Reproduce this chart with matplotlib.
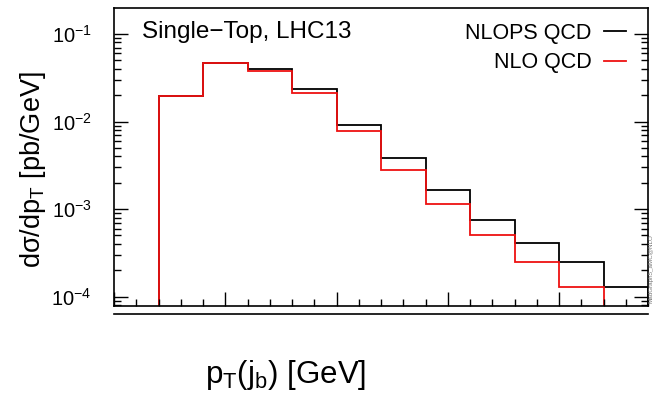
import numpy as np
import matplotlib
matplotlib.use("Agg")
import matplotlib.pyplot as plt
from matplotlib.ticker import LogLocator, MultipleLocator, NullFormatter
from matplotlib.lines import Line2D

plt.rcParams['font.family'] = ['Liberation Sans', 'DejaVu Sans']
plt.rcParams['mathtext.fontset'] = 'custom'
plt.rcParams['mathtext.rm'] = 'Liberation Sans'
plt.rcParams['mathtext.it'] = 'Liberation Sans:italic'
plt.rcParams['mathtext.default'] = 'regular'

# bin edges in GeV
edges_nlops = [20, 40, 60, 80, 100, 120, 140, 160, 180, 200, 220, 240]
nlops = [0.0194, 0.0470, 0.0398, 0.0238, 0.00923, 0.00380, 0.00167,
         7.45e-4, 4.11e-4, 2.47e-4, 1.29e-4]
edges_nlo = [20, 40, 60, 80, 100, 120, 140, 160, 180, 200, 220]
nlo = [0.0194, 0.0468, 0.0374, 0.0214, 0.00781, 0.00283, 0.001145,
       5.07e-4, 2.52e-4, 1.29e-4]

W, H = 654, 394
fig = plt.figure(figsize=(W / 100, H / 100), dpi=100)
ax = fig.add_axes([114 / W, 1 - 306 / H, (648 - 114) / W, (306 - 8) / H])

ax.stairs(nlops, edges_nlops, baseline=1e-7, color='black', lw=1.3)
ax.stairs(nlo, edges_nlo, baseline=1e-7, color='#ee1111', lw=1.3)

ax.set_yscale('log')
ax.set_xlim(0, 240)
ax.set_ylim(7.83e-5, 0.198)

ax.xaxis.set_major_locator(MultipleLocator(50))
ax.xaxis.set_minor_locator(MultipleLocator(10))
ax.xaxis.set_major_formatter(NullFormatter())
ax.yaxis.set_major_locator(LogLocator(base=10, numticks=10))
ax.yaxis.set_minor_locator(LogLocator(base=10, subs=np.arange(2, 10), numticks=20))
ax.yaxis.set_minor_formatter(NullFormatter())

ax.tick_params(which='both', direction='in', top=False, right=True, width=1.0,
               labelsize=14.5, pad=16)
ax.tick_params(which='major', length=10)
ax.tick_params(which='minor', length=5)
for s in ax.spines.values():
    s.set_linewidth(1.2)

ax.set_ylabel('d\u03c3/dp$_{T}$ [pb/GeV]', fontsize=19.5)
ax.yaxis.set_label_coords(48 / W, 1 - 170 / H, transform=fig.transFigure)

ax.text(0.052, 0.92, 'Single\u2212Top, LHC13', transform=ax.transAxes,
        fontsize=17.5, ha='left', va='center')

handles = [Line2D([], [], color='black', lw=1.3), Line2D([], [], color='#ee1111', lw=1.3)]
leg = ax.legend(handles, ['NLOPS QCD', 'NLO QCD'], loc='upper right',
                bbox_to_anchor=((626 - 114) / 534, 1 - (23 - 8) / 298),
                frameon=False, markerfirst=False,
                fontsize=15.5, handlelength=1.0, handletextpad=0.6,
                labelspacing=0.38, borderaxespad=0, borderpad=0)

# top line of the (cropped) lower panel
fig.add_artist(Line2D([114 / W, 648 / W], [1 - 314 / H, 1 - 314 / H],
                      color='black', lw=1.2))

fig.text(205 / W, 1 - 383 / H, 'p$_{T}$(j$_{b}$) [GeV]', fontsize=22.5,
         ha='left', va='baseline')

fig.text(650.5 / W, 1 - 303 / H, 'MadGraph5_aMC@NLO', fontsize=4.5, color='#777777',
         rotation=90, ha='center', va='bottom')

fig.savefig('out.png', dpi=100)
